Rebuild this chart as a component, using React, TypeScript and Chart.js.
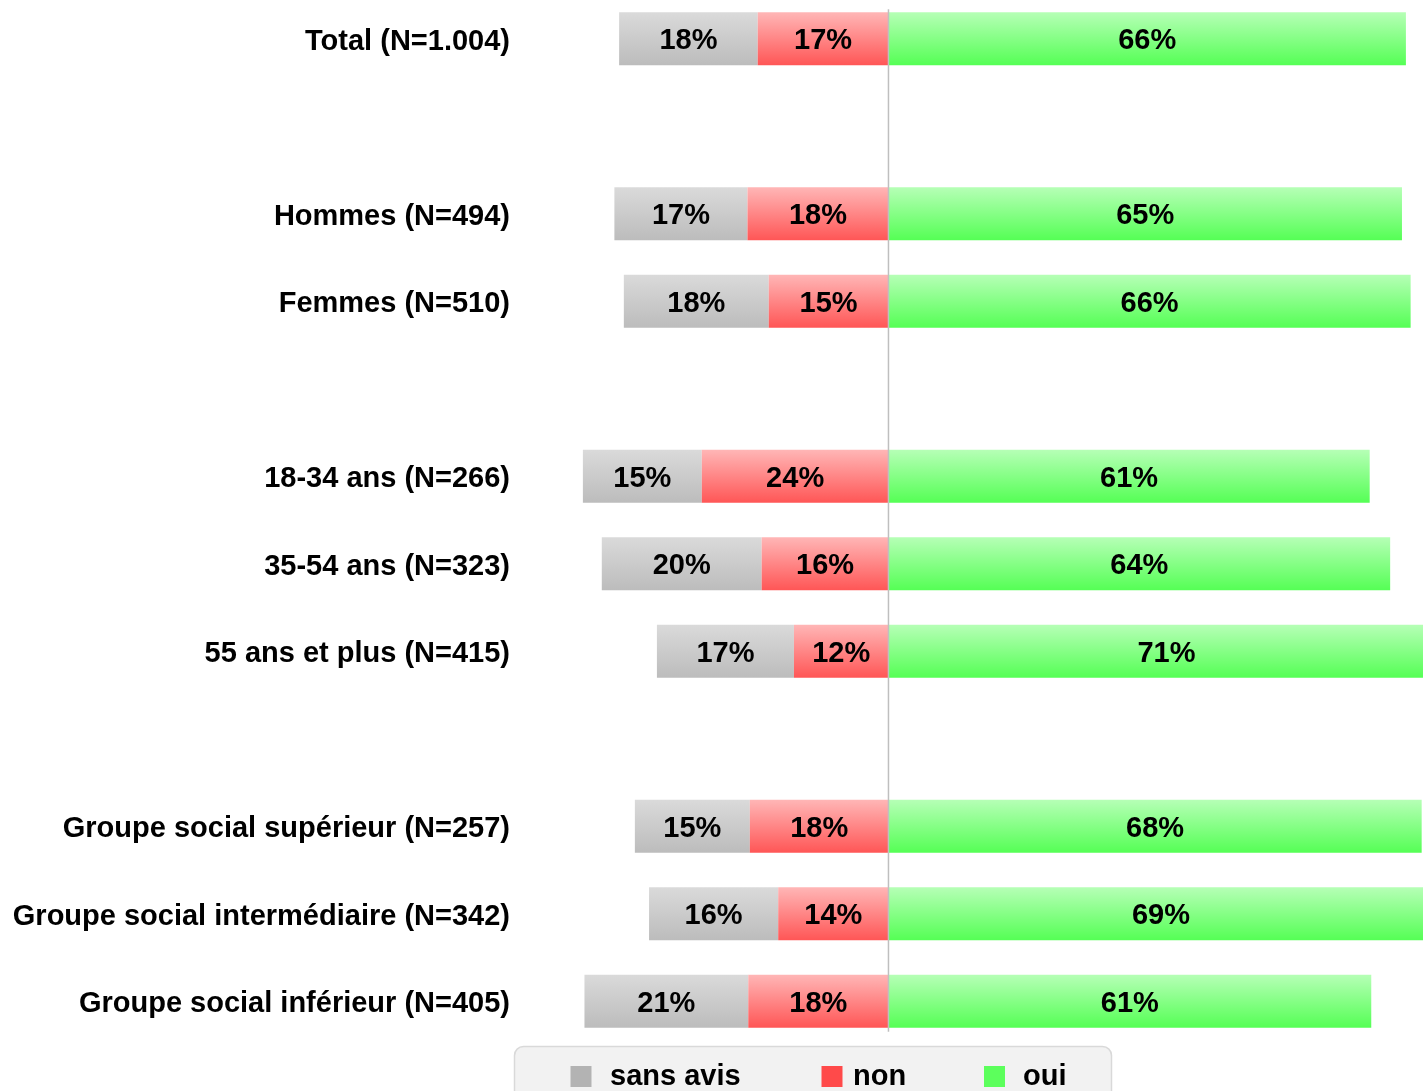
import React, { useEffect, useRef } from 'react';
import { Chart, registerables } from 'chart.js';

Chart.register(...registerables);

// ---- data ----
const categories = [
  'Total (N=1.004)',
  '',
  'Hommes (N=494)',
  'Femmes (N=510)',
  '',
  '18-34 ans (N=266)',
  '35-54 ans (N=323)',
  '55 ans et plus (N=415)',
  '',
  'Groupe social supérieur (N=257)',
  'Groupe social intermédiaire (N=342)',
  'Groupe social inférieur (N=405)',
];
const seriesNames = ['sans avis', 'non', 'oui'];
const sansAvis = [17.6, null, 16.9, 18.4, null, 15.1, 20.3, 17.4, null, 14.6, 16.4, 20.8];
const non = [16.6, null, 17.9, 15.2, null, 23.7, 16.1, 12.0, null, 17.6, 14.0, 17.8];
const oui = [65.7, null, 65.2, 66.3, null, 61.1, 63.7, 70.6, null, 67.7, 69.2, 61.3];

// ---- layout / style ----
const FONT = '"Liberation Sans", Arial, Helvetica, sans-serif';
const FONT_SIZE = 29;
const W = 1423;
const H = 1096;
const SHIFT = 5;
const BAR_HALF = 26.5;
const X_MIN = -46.15;
const X_MAX = 67.87;

const grad = (top: string, bottom: string) => (c: any) => {
  const chart = c.chart;
  const ys = chart.scales && chart.scales.y;
  if (!ys || c.type !== 'data') return bottom;
  const yc = ys.getPixelForValue(c.dataIndex);
  if (!isFinite(yc)) return bottom;
  const g = chart.ctx.createLinearGradient(0, yc - BAR_HALF, 0, yc + BAR_HALF);
  g.addColorStop(0, top);
  g.addColorStop(1, bottom);
  return g;
};

const overlayPlugin = {
  id: 'overlay',
  afterDatasetsDraw(chart: any) {
    const { ctx } = chart;
    const x = chart.scales.x;
    const y = chart.scales.y;
    const x0 = x.getPixelForValue(0);
    const first = y.getPixelForValue(0);
    const last = y.getPixelForValue(categories.length - 1);
    ctx.save();
    ctx.strokeStyle = '#bfbfbf';
    ctx.lineWidth = 1.5;
    ctx.beginPath();
    ctx.moveTo(x0, first - BAR_HALF - 3);
    ctx.lineTo(x0, last + BAR_HALF + 4);
    ctx.stroke();
    ctx.font = `bold ${FONT_SIZE}px ${FONT}`;
    ctx.fillStyle = '#000';
    ctx.textAlign = 'center';
    ctx.textBaseline = 'alphabetic';
    chart.data.datasets.forEach((ds: any, di: number) => {
      const meta = chart.getDatasetMeta(di);
      meta.data.forEach((el: any, i: number) => {
        const v = ds.data[i];
        if (v == null) return;
        const cx = (el.x + el.base) / 2;
        ctx.fillText(Math.round(Math.abs(v)) + '%', cx, el.y + 10.5);
      });
    });
    ctx.restore();
  },
};

const LEGEND_BOX = { x: 514.5, y: 1046.5 + SHIFT, w: 597, h: 80, r: 9 };
const LEGEND_SQ_X = [570.5, 821.5, 984];
const LEGEND_TEXT_X = [610, 853, 1023];
const LEGEND_SQ_Y = 1066 + SHIFT;
const LEGEND_SQ = 21;
const LEGEND_BASE = 1085 + SHIFT;

const legendPlugin = {
  id: 'boxLegend',
  afterDraw(chart: any) {
    const { ctx } = chart;
    const { x, y, w, h, r } = LEGEND_BOX;
    ctx.save();
    ctx.beginPath();
    ctx.moveTo(x + r, y);
    ctx.lineTo(x + w - r, y);
    ctx.arcTo(x + w, y, x + w, y + r, r);
    ctx.lineTo(x + w, y + h);
    ctx.lineTo(x, y + h);
    ctx.lineTo(x, y + r);
    ctx.arcTo(x, y, x + r, y, r);
    ctx.closePath();
    ctx.fillStyle = '#f2f2f2';
    ctx.fill();
    ctx.strokeStyle = '#d9d9d9';
    ctx.lineWidth = 1.5;
    ctx.stroke();
    ctx.font = `bold ${FONT_SIZE}px ${FONT}`;
    ctx.textAlign = 'left';
    ctx.textBaseline = 'alphabetic';
    chart.data.datasets.forEach((ds: any, i: number) => {
      ctx.fillStyle = ds.legendColor;
      ctx.fillRect(LEGEND_SQ_X[i], LEGEND_SQ_Y, LEGEND_SQ, LEGEND_SQ);
      ctx.fillStyle = '#000';
      ctx.fillText(ds.label, LEGEND_TEXT_X[i], LEGEND_BASE);
    });
    ctx.restore();
  },
};

export default function App() {
  const ref = useRef<HTMLCanvasElement>(null);
  useEffect(() => {
    const neg = (a: (number | null)[]) => a.map((v) => (v == null ? null : -v));
    const chart = new Chart(ref.current as HTMLCanvasElement, {
      type: 'bar',
      data: {
        labels: categories,
        datasets: [
          {
            label: seriesNames[0],
            data: neg(sansAvis),
            order: 2,
            backgroundColor: grad('#dadada', '#bcbcbc'),
            legendColor: '#b3b3b3',
          } as any,
          {
            label: seriesNames[1],
            data: neg(non),
            order: 1,
            backgroundColor: grad('#ffb6b6', '#ff5656'),
            legendColor: '#ff4a4a',
          } as any,
          {
            label: seriesNames[2],
            data: oui,
            order: 3,
            backgroundColor: grad('#b6ffb6', '#55ff55'),
            legendColor: '#5cff5c',
          } as any,
        ],
      },
      options: {
        indexAxis: 'y',
        responsive: false,
        animation: false,
        devicePixelRatio: 1,
        events: [],
        layout: { autoPadding: false, padding: { top: 0, bottom: 46, left: 0, right: 0 } },
        datasets: { bar: { categoryPercentage: 1, barPercentage: 0.606, borderWidth: 0 } },
        scales: {
          x: {
            stacked: true,
            min: X_MIN,
            max: X_MAX,
            display: false,
          },
          y: {
            stacked: true,
            grid: { display: false, drawTicks: false },
            border: { display: false },
            ticks: {
              autoSkip: false,
              padding: 15,
              labelOffset: 3,
              color: '#000',
              font: { family: FONT, size: FONT_SIZE, weight: 'bold' },
            },
            afterFit: (s: any) => {
              s.width = 525;
              s.paddingTop = 0;
              s.paddingBottom = 0;
            },
          },
        },
        plugins: {
          legend: { display: false },
          tooltip: { enabled: false },
        },
      } as any,
      plugins: [overlayPlugin, legendPlugin],
    });
    return () => chart.destroy();
  }, []);
  return (
    <div style={{ position: 'fixed', left: 0, top: -SHIFT, width: W, height: H, background: '#fff' }}>
      <canvas ref={ref} width={W} height={H} style={{ display: 'block', width: W, height: H }} />
    </div>
  );
}
